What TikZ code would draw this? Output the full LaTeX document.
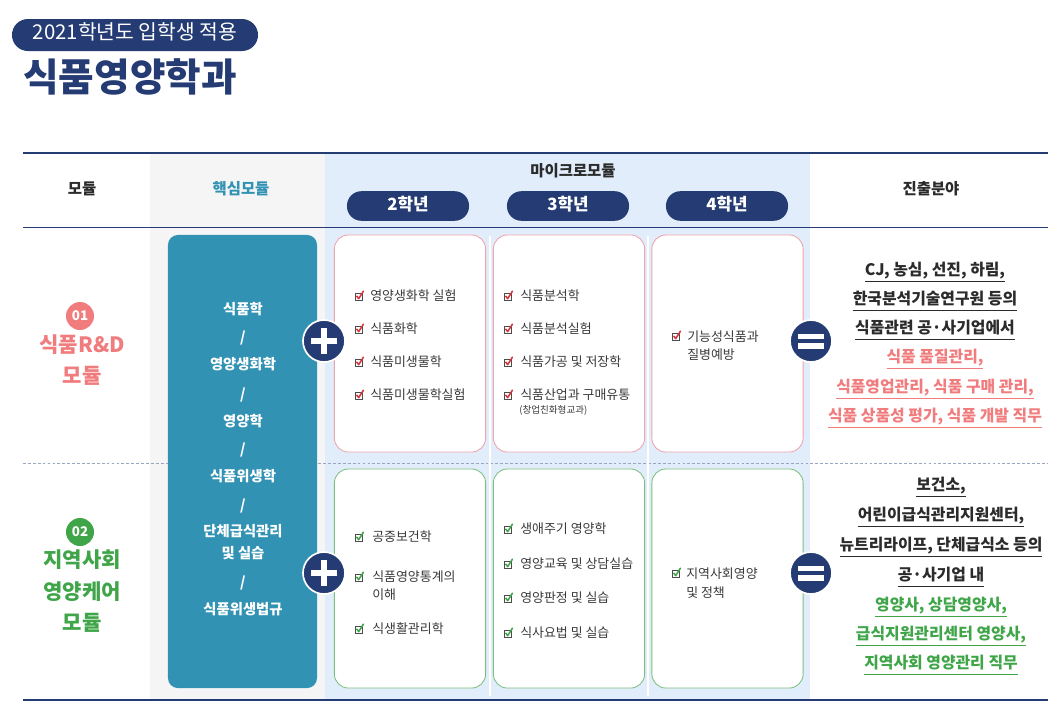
\documentclass[tikz,border=0pt]{standalone}
\usepackage{fontspec}
\setmainfont{Noto Sans CJK KR}
\usetikzlibrary{positioning}

\definecolor{navy}{HTML}{243B73}
\definecolor{coreteal}{HTML}{3192B3}
\definecolor{graybg}{HTML}{F5F5F5}
\definecolor{bluebg}{HTML}{E1EDFB}
\definecolor{txtdark}{HTML}{2B2B2B}
\definecolor{txtgray}{HTML}{3A3A3A}
\definecolor{pinktxt}{HTML}{F07C7E}
\definecolor{pinkline}{HTML}{EFA3AB}
\definecolor{greentxt}{HTML}{3FA548}
\definecolor{greenline}{HTML}{7CC07F}
\definecolor{chkred}{HTML}{D8343C}
\definecolor{chkgreen}{HTML}{3FA548}
\definecolor{dashgray}{HTML}{9AA6C0}

% underline set a little below the text
\newcommand{\lowul}[1]{\underline{\raisebox{0pt}[\height][3pt]{#1}}}

\tikzset{
  every node/.style={inner sep=0pt, text height=0.8em, text depth=0.15em},
  hdr/.style={font=\fontsize{11}{13}\selectfont\bfseries, text=txtdark},
  yrpill/.style={fill=navy, rounded corners=0.36cm, minimum width=3.05cm, minimum height=0.74cm,
    text=white, font=\fontsize{12}{14}\selectfont\bfseries},
  corebox/.style={fill=coreteal, rounded corners=0.25cm, minimum width=3.725cm, minimum height=11.325cm},
  coretxt/.style={text=white, font=\fontsize{10.2}{12}\selectfont\bfseries},
  microR/.style={draw=pinkline, fill=white, line width=0.6pt, rounded corners=0.35cm,
    minimum width=3.78cm, minimum height=5.425cm},
  microG/.style={microR, draw=greenline, minimum height=5.475cm},
  item/.style={anchor=west, font=\fontsize{9.2}{11}\selectfont, text=txtgray},
  opc/.style={circle, fill=navy, draw=white, line width=1.2pt, minimum size=1.05cm},
  numc/.style={circle, minimum size=0.7cm, text=white, font=\fontsize{9.5}{10}\selectfont\bfseries},
  modlbl/.style={font=\fontsize{15}{17}\selectfont\bfseries},
  job/.style={font=\fontsize{11.3}{13}\selectfont\bfseries},
  pics/chk/.style={code={
    \draw[gray!60!black, line width=0.4pt] (-3.6,-3) rectangle (3.6,4.2);
    \draw[#1, line width=1.1pt, line cap=round, line join=round] (-2.2,0.2) -- (-0.3,2.6) -- (4.4,-4.8);
  }}
}

\begin{document}
\begin{tikzpicture}[x=0.025cm, y=-0.025cm]
\useasboundingbox (0,0) rectangle (1060,713);

% title
\node[fill=navy, rounded corners=0.4cm, minimum width=6.15cm, minimum height=0.8cm,
  text=white, font=\fontsize{14.5}{16}\selectfont] (year) at (135,35) {2021학년도 입학생 적용};
\node[anchor=west, text=navy, font=\fontsize{27.5}{30}\selectfont\bfseries] (title) at (23,87) {식품영양학과};

% backgrounds and rules
\fill[graybg] (150,153) rectangle (325,700);
\fill[bluebg] (325,153) rectangle (810,700);
\draw[navy, line width=1.4pt] (23,153) -- (1048,153);
\draw[navy, line width=0.7pt] (23,227) -- (1048,227);
\draw[dashgray, line width=0.5pt, dash pattern=on 2pt off 1.5pt] (23,463) -- (1048,463);
\draw[navy, line width=1.6pt] (23,700) -- (1048,700);
\draw[white, line width=0.8pt] (490,236) -- (490,696);
\draw[white, line width=0.8pt] (648,236) -- (648,696);

% header
\node[hdr] (hmod) at (82,190) {모듈};
\node[hdr, text=coreteal] (hcore) at (241,190) {핵심모듈};
\node[hdr] (hmicro) at (573,172) {마이크로모듈};
\node[hdr] (hjob) at (931,190) {진출분야};
\node[yrpill] (y2) at (408,206) {2학년};
\node[yrpill] (y3) at (568,206) {3학년};
\node[yrpill] (y4) at (727,206) {4학년};

% module labels
\node[numc, fill=pinktxt] (n1) at (80,316) {01};
\node[modlbl, text=pinktxt] (m1a) at (82,348) {식품R\&D};
\node[modlbl, text=pinktxt] (m1b) at (82,379) {모듈};
\node[numc, fill=greentxt] (n2) at (80,532) {02};
\node[modlbl, text=greentxt] (m2a) at (82,563) {지역사회};
\node[modlbl, text=greentxt] (m2b) at (82,595) {영양케어};
\node[modlbl, text=greentxt] (m2c) at (82,626) {모듈};

% core module
\node[corebox] (core) at (242.5,461.5) {};
\foreach \yy/\txt in {310/식품학, 365/영양생화학, 422/영양학, 477/식품위생학,
                      532/단체급식관리, 554/및 실습, 610/식품위생법규}
  \node[coretxt] (c\yy) at (243,\yy) {\txt};
\foreach \yy in {338,395,450,506,583}
  \node[coretxt] (s\yy) at (243,\yy) {/};

% micro modules
\node[microR] (r2) at (410,343.5) {};
\node[microR] (r3) at (569,343.5) {};
\node[microR] (r4) at (727.5,343.5) {};
\node[microG] (g2) at (410,578.5) {};
\node[microG] (g3) at (569,578.5) {};
\node[microG] (g4) at (727.5,578.5) {};

\foreach \yy/\txt in {296/영양생화학 실험, 329/식품화학, 362/식품미생물학, 395/식품미생물학실험} {
  \pic at (359,\yy) {chk=chkred};
  \node[item] (ra\yy) at (370,\yy) {\txt};
}
\foreach \yy/\txt in {296/식품분석학, 329/식품분석실험, 362/식품가공 및 저장학, 395/식품산업과 구매유통} {
  \pic at (508,\yy) {chk=chkred};
  \node[item] (rb\yy) at (520,\yy) {\txt};
}
\node[item, font=\fontsize{6.8}{8}\selectfont] (rbsub) at (519,409) {(창업친화형교과)};
\pic at (676,336) {chk=chkred};
\node[item] (rc1) at (687,337) {기능성식품과};
\node[item] (rc2) at (687,355) {질병예방};

\foreach \yy/\txt in {537/공중보건학, 577/식품영양통계의, 629/식생활관리학} {
  \pic at (359,\yy) {chk=chkgreen};
  \node[item] (ga\yy) at (372,\yy) {\txt};
}
\node[item] (ga2) at (372,595) {이해};
\foreach \yy/\txt in {529/생애주기 영양학, 564/영양교육 및 상담실습, 598/영양판정 및 실습, 633/식사요법 및 실습} {
  \pic at (508,\yy) {chk=chkgreen};
  \node[item] (gb\yy) at (520,\yy) {\txt};
}
\pic at (676,573) {chk=chkgreen};
\node[item] (gc1) at (686,574) {지역사회영양};
\node[item] (gc2) at (686,593) {및 정책};

% plus and equals
\foreach \yy [count=\i] in {341,573} {
  \node[opc] (plus\i) at (324,\yy) {};
  \fill[white] (plus\i.center) ++(-13,-3.2) rectangle ++(26,6.4);
  \fill[white] (plus\i.center) ++(-3.2,-13) rectangle ++(6.4,26);
  \node[opc] (eq\i) at (811,\yy) {};
  \fill[white] (eq\i.center) ++(-13,-7.5) rectangle ++(26,5.5);
  \fill[white] (eq\i.center) ++(-13,2) rectangle ++(26,5.5);
}

% career fields
\foreach \yy/\txt/\col in {271/{CJ, 농심, 선진, 하림,}/txtdark, 300/한국분석기술연구원 등의/txtdark,
    329/식품관련 공·사기업에서/txtdark, 358/{식품 품질관리,}/pinktxt,
    388/{식품영업관리, 식품 구매 관리,}/pinktxt, 417/{식품 상품성 평가, 식품 개발 직무}/pinktxt}
  \node[job, text=\col] (ja\yy) at (935,\yy) {\lowul{\txt}};
\foreach \yy/\txt/\col in {486/{보건소,}/txtdark, 516/{어린이급식관리지원센터,}/txtdark,
    546/{뉴트리라이프, 단체급식소 등의}/txtdark, 576/공·사기업 내/txtdark,
    606/{영양사, 상담영양사,}/greentxt, 635/{급식지원관리센터 영양사,}/greentxt,
    664/지역사회 영양관리 직무/greentxt}
  \node[job, text=\col] (jb\yy) at (941,\yy) {\lowul{\txt}};

\end{tikzpicture}
\end{document}
